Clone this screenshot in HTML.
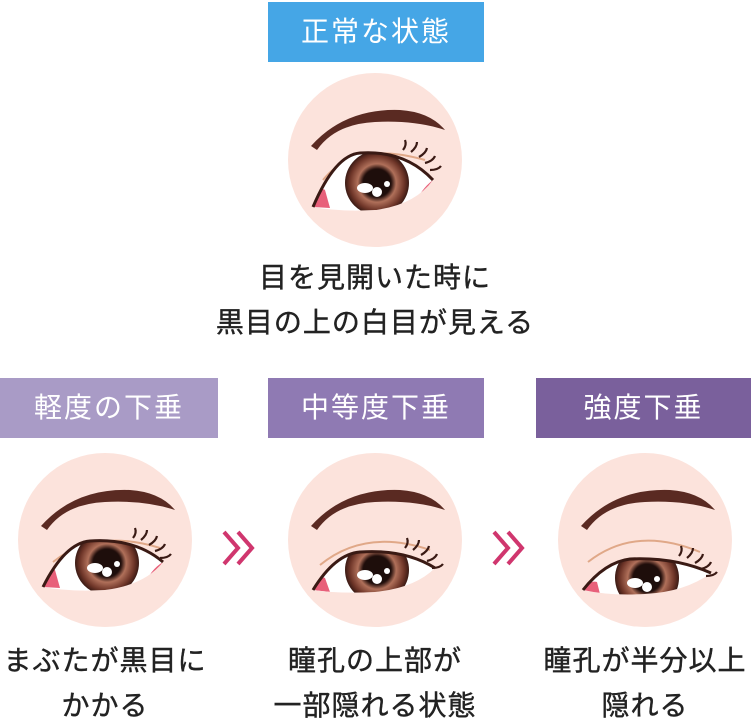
<!DOCTYPE html>
<html><head><meta charset="utf-8"><style>
body{margin:0;width:751px;height:718px;background:#fff;position:relative;font-family:"Liberation Sans","Noto Sans CJK JP",sans-serif;overflow:hidden}
.lb{position:absolute;height:60px;line-height:60px;color:#fff;font-size:28px;text-align:center;letter-spacing:2px}
.tx{position:absolute;font-size:28px;color:#222;text-align:center;line-height:45px;letter-spacing:1px;-webkit-text-stroke:0.4px #222}
svg{position:absolute;left:0;top:0}
</style></head><body>
<div class="lb" style="left:268px;top:2px;width:216px;background:#45a6e6">正常な状態</div>
<div class="lb" style="left:0;top:378px;width:218px;background:#a99bc6">軽度の下垂</div>
<div class="lb" style="left:268px;top:378px;width:216px;background:#8f7ab3">中等度下垂</div>
<div class="lb" style="left:536px;top:378px;width:215px;background:#7a609c">強度下垂</div>
<div class="tx" style="left:150px;top:255px;width:450px">目を見開いた時に<br>黒目の上の白目が見える</div>
<div class="tx" style="left:-15px;top:638px;width:240px">まぶたが黒目に<br>かかる</div>
<div class="tx" style="left:245px;top:638px;width:260px">瞳孔の上部が<br>一部隠れる状態</div>
<div class="tx" style="left:515px;top:638px;width:260px">瞳孔が半分以上<br>隠れる</div>
<svg width="751" height="718" viewBox="0 0 751 718">
<defs>
<radialGradient id="ir" cx="50%" cy="50%" r="50%"><stop offset="0.45" stop-color="#2a1410"/><stop offset="0.6" stop-color="#b0705a"/><stop offset="0.85" stop-color="#6e3528"/><stop offset="1" stop-color="#3a1a14"/></radialGradient>
<g id="brow"><path d="M-64,-14 Q-30,-52 25,-50 Q55,-48 70,-30 Q40,-40 0,-38 Q-40,-36 -58,-10 Z" fill="#5a2a22"/></g>
<g id="iris"><circle r="32" fill="url(#ir)"/><circle r="14" fill="#1e0e0b"/><ellipse cx="-12" cy="5" rx="8" ry="5" fill="#fff"/><circle cx="0" cy="9" r="5" fill="#fff"/><circle cx="10" cy="1" r="3" fill="#fff"/></g>
<g id="lash" stroke="#3a1a14" stroke-width="2.2" fill="none"><path d="M28,-2 q4,-5 2,-10 M36,0 q6,-5 6,-10 M44,5 q7,-4 8,-9 M50,11 q8,-2 10,-7 M55,18 q8,0 11,-4"/></g>
<clipPath id="c0"><path d="M-62,47 Q-40,-5 -15,-7 Q30,-10 58,20 Q40,45 0,50 Q-35,52 -62,47Z"/></clipPath>
<clipPath id="c1"><path d="M-62,47 Q-40,3 -15,1 Q30,-2 58,22 Q40,45 0,50 Q-35,52 -62,47Z"/></clipPath>
<clipPath id="c2"><path d="M-62,50 Q-40,14 -15,12 Q30,9 60,28 Q40,48 0,52 Q-35,54 -62,50Z"/></clipPath>
<clipPath id="c3"><path d="M-62,50 Q-40,22 -15,19 Q30,17 66,33 Q40,52 0,54 Q-35,56 -62,50Z"/></clipPath>
</defs>
<!-- normal -->
<g transform="translate(375,160)">
<circle r="87" fill="#fce3dc"/><use href="#brow"/>
<path d="M-52,20 Q-20,-20 50,0" stroke="#e0a888" stroke-width="2" fill="none"/>
<g clip-path="url(#c0)"><rect x="-70" y="-20" width="140" height="80" fill="#fff"/><path d="M-62,47 Q-55,25 -50,30 L-45,48Z" fill="#e8607a"/><path d="M58,20 Q45,30 40,45 L60,30Z" fill="#e8607a"/><use href="#iris" transform="translate(2,23)"/></g>
<path d="M-62,47 Q-40,-5 -15,-7 Q30,-10 58,20" stroke="#3a1a14" stroke-width="3" fill="none"/>
<use href="#lash" transform="translate(0,-8)"/></g>
<!-- mild -->
<g transform="translate(105,540)">
<circle r="87" fill="#fce3dc"/><use href="#brow"/>
<path d="M-52,22 Q-10,-12 55,8" stroke="#e0a888" stroke-width="2" fill="none"/>
<g clip-path="url(#c1)"><rect x="-70" y="-20" width="140" height="80" fill="#fff"/><path d="M-62,47 Q-55,25 -50,30 L-45,48Z" fill="#e8607a"/><path d="M58,22 Q45,30 40,45 L60,30Z" fill="#e8607a"/><use href="#iris" transform="translate(2,23)"/></g>
<path d="M-62,47 Q-40,3 -15,1 Q30,-2 58,22" stroke="#3a1a14" stroke-width="3" fill="none"/>
<use href="#lash" transform="translate(0,0)"/></g>
<!-- moderate -->
<g transform="translate(375,540)">
<circle r="87" fill="#fce3dc"/><use href="#brow"/>
<path d="M-55,25 Q-10,-12 55,10" stroke="#e0a888" stroke-width="2" fill="none"/>
<g clip-path="url(#c2)"><rect x="-70" y="-20" width="140" height="80" fill="#fff"/><path d="M-62,50 Q-55,35 -50,38 L-45,52Z" fill="#e8607a"/><use href="#iris" transform="translate(2,30)"/></g>
<path d="M-62,50 Q-40,14 -15,12 Q30,9 60,28" stroke="#3a1a14" stroke-width="3" fill="none"/>
<use href="#lash" transform="translate(2,10)"/></g>
<!-- severe -->
<g transform="translate(645,540)">
<circle r="87" fill="#fce3dc"/><use href="#brow"/>
<path d="M-57,22 Q-10,-15 55,12" stroke="#e0a888" stroke-width="2" fill="none"/>
<g clip-path="url(#c3)"><rect x="-70" y="-20" width="140" height="80" fill="#fff"/><path d="M-62,50 Q-55,40 -48,42 L-45,54Z" fill="#e8607a"/><use href="#iris" transform="translate(2,38)"/></g>
<path d="M-62,50 Q-40,22 -15,19 Q30,17 66,33" stroke="#3a1a14" stroke-width="3" fill="none"/>
<use href="#lash" transform="translate(6,18)"/></g>
<!-- chevrons -->
<g stroke="#d0366e" stroke-width="4" fill="none">
<path d="M224,532 l14,16 l-14,16 M238,532 l14,16 l-14,16"/>
<path d="M494,532 l14,16 l-14,16 M508,532 l14,16 l-14,16"/>
</g>
</svg>
</body></html>
